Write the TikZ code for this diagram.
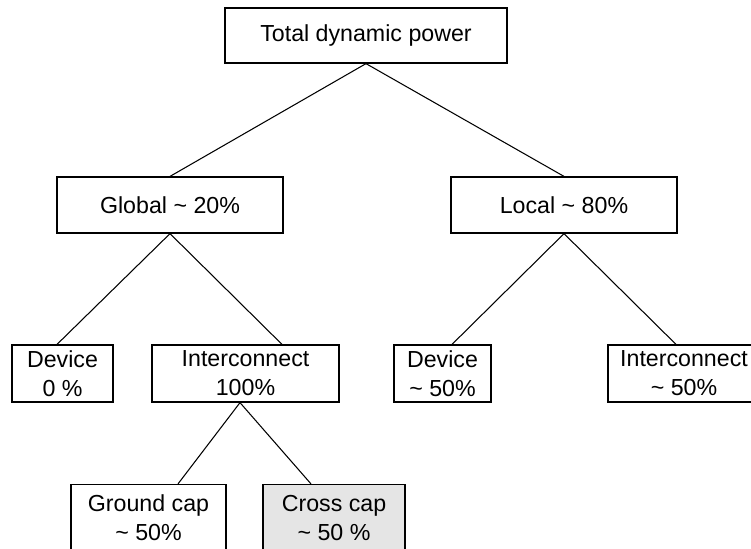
\documentclass[tikz,border=0pt]{standalone}
\usepackage{fontspec}
\setmainfont{Liberation Sans}
\usepackage{tikz}
\usetikzlibrary{positioning,calc}

\tikzset{
  box/.style={draw, line width=0.7pt, align=center, inner sep=0pt,
    font=\fontsize{13.2}{16.5}\selectfont},
  link/.style={line width=0.6pt}
}

\begin{document}
\begin{tikzpicture}

% Frame of the picture
\useasboundingbox (0,0) rectangle (15.02,-10.96);
\clip (0,0) rectangle (15.02,-10.96);

% Top level
\node[box, minimum width=5.64cm, minimum height=1.1cm] (total) at (7.32,-0.71) {Total dynamic power};

% Second level
\node[box, minimum width=4.52cm, minimum height=1.12cm] (glob) at (3.40,-4.10) {Global \textasciitilde{} 20\%};
\node[box, minimum width=4.52cm, minimum height=1.12cm] (loc) at (11.28,-4.10) {Local \textasciitilde{} 80\%};

% Third level
\node[box, minimum width=2.02cm, minimum height=1.14cm] (dev1) at (1.25,-7.47) {Device\\0 \%};
\node[box, minimum width=3.74cm, minimum height=1.14cm] (ic1) at (4.91,-7.47) {Interconnect\\100\%};
\node[box, minimum width=1.94cm, minimum height=1.14cm] (dev2) at (8.85,-7.47) {Device\\\textasciitilde{} 50\%};
\node[box, minimum width=3.04cm, minimum height=1.14cm] (ic2) at (13.68,-7.47) {Interconnect\\\textasciitilde{} 50\%};

% Fourth level
\node[box, minimum width=3.10cm, minimum height=1.34cm] (gnd) at (2.97,-10.36) {Ground cap\\\textasciitilde{} 50\%};
\node[box, fill=gray!20, minimum width=2.84cm, minimum height=1.34cm] (cross) at (6.68,-10.36) {Cross cap\\\textasciitilde{} 50 \%};

% Links
\draw[link] (total.south) -- (glob.north);
\draw[link] (total.south) -- (loc.north);
\draw[link] (glob.south) -- ([xshift=-0.11cm]dev1.north);
\draw[link] (glob.south) -- ([xshift=0.73cm]ic1.north);
\draw[link] (loc.south) -- ([xshift=0.19cm]dev2.north);
\draw[link] (loc.south) -- ([xshift=-0.16cm]ic2.north);
\draw[link] ([xshift=-0.11cm]ic1.south) -- ([xshift=0.59cm]gnd.north);
\draw[link] ([xshift=-0.11cm]ic1.south) -- ([xshift=-0.46cm]cross.north);

\end{tikzpicture}
\end{document}
